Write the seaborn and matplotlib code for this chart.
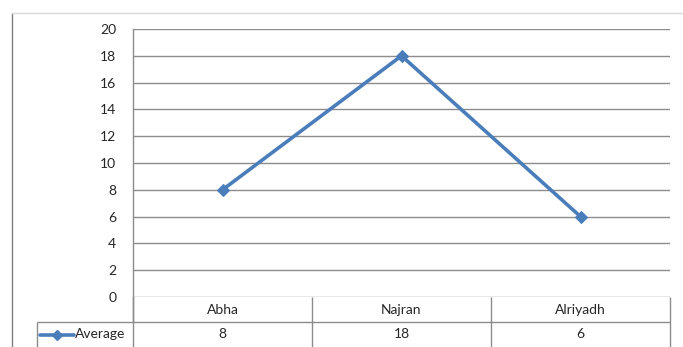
import matplotlib
matplotlib.use("Agg")
import matplotlib.pyplot as plt
import seaborn as sns
import pandas as pd
from matplotlib.lines import Line2D

# data
cities = ["Abha", "Najran", "Alriyadh"]
average = [8, 18, 6]
series_name = "Average"
y_ticks = list(range(0, 21, 2))

df = pd.DataFrame({"city": cities, "value": average})

sns.set_style("white")
plt.rcParams["font.family"] = ["Lato", "DejaVu Sans"]

W, H = 683, 347
fig = plt.figure(figsize=(W / 100, H / 100), dpi=100)
fig.patch.set_facecolor("white")

line_color = "#4a7ebb"
grid_color = "#8c8c8c"
text_color = "#262626"
fs = 10


def px(x, y):
    # pixel coords (top-left origin) -> figure fraction
    return x / W, 1 - y / H


def fig_line(x0, y0, x1, y1, color=grid_color, lw=1.0):
    a, b = px(x0, y0)
    c, d = px(x1, y1)
    fig.add_artist(Line2D([a, c], [b, d], transform=fig.transFigure,
                          color=color, lw=lw, solid_capstyle="butt"))


# plot area
left, right, top, bottom = 133, 670, 29, 297
ax = fig.add_axes([left / W, 1 - bottom / H, (right - left) / W, (bottom - top) / H])
sns.lineplot(data=df, x=range(len(cities)), y="value", ax=ax, color=line_color,
             lw=2.6, marker="D", markersize=6.5, markeredgecolor=line_color)
ax.set_xlim(-0.5, len(cities) - 0.5)
ax.set_ylim(0, 20)
ax.set_yticks(y_ticks)
ax.set_yticklabels([str(t) for t in y_ticks], fontsize=fs, color=text_color)
ax.set_xticks([])
ax.set_xlabel("")
ax.set_ylabel("")
ax.tick_params(axis="y", length=0, pad=12)
for t in y_ticks:
    ax.axhline(t, color=grid_color, lw=1.0, zorder=0)
for s in ["top", "right", "bottom"]:
    ax.spines[s].set_visible(False)
ax.spines["left"].set_color(grid_color)
ax.spines["left"].set_linewidth(1.0)
ax.patch.set_alpha(0)

# data table under the axis
row1, row2, row3 = 297, 322, 347
col_edges = [left + i * (right - left) / len(cities) for i in range(len(cities) + 1)]
fig_line(left, row1, left, row2)
fig_line(37, row2, right, row2)
fig_line(37, row2, 37, row3)
for x in col_edges:
    fig_line(x, row1, x, row3)
for i, (c, v) in enumerate(zip(cities, average)):
    cx = (col_edges[i] + col_edges[i + 1]) / 2
    fig.text(*px(cx, (row1 + row2) / 2), c, ha="center", va="center",
             fontsize=fs, color=text_color)
    fig.text(*px(cx, (row2 + row3) / 2), str(v), ha="center", va="center",
             fontsize=fs, color=text_color)

# legend key in the table
ky = (row2 + row3) / 2
a, b = px(40, ky)
c, d = px(74, ky)
fig.add_artist(Line2D([a, c], [b, d], transform=fig.transFigure, color=line_color, lw=2.6))
m1, m2 = px(57, ky)
fig.add_artist(Line2D([m1], [m2], transform=fig.transFigure, color=line_color,
                      marker="D", markersize=5.5))
fig.text(*px(75, ky), series_name, ha="left", va="center", fontsize=fs, color=text_color)

# chart border
fig_line(12, 13, 12, H, color="#7f7f7f")
fig_line(12, 13, W, 13, color="#d9d9d9")

fig.savefig("out.png", dpi=100, facecolor="white")
